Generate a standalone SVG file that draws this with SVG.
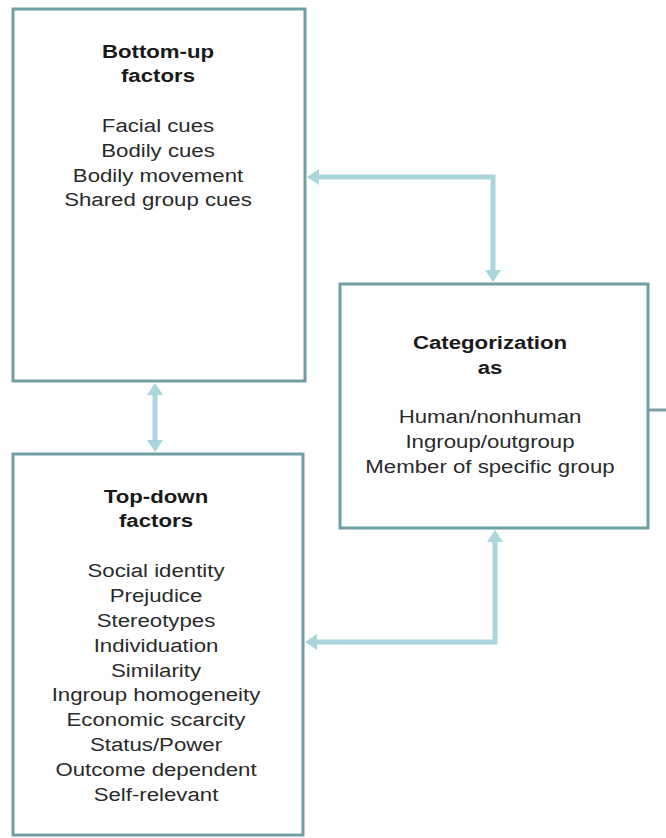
<svg xmlns="http://www.w3.org/2000/svg" width="666" height="838" viewBox="0 0 666 838">
<style>
.box{fill:#ffffff;stroke:#6f9ea3;stroke-width:3}
.con{fill:none;stroke:#a9d5dc;stroke-width:5}
.t{font-family:"Liberation Sans",Arial,sans-serif;font-size:19px;font-weight:bold;fill:#1a1a1a;text-anchor:middle}
.b{font-family:"Liberation Sans",Arial,sans-serif;font-size:19px;fill:#2a2a2a;text-anchor:middle}
</style>
<defs>
<marker id="ah" viewBox="0 0 12 16" refX="4" refY="8" markerWidth="12" markerHeight="16" markerUnits="userSpaceOnUse" orient="auto-start-reverse">
<path d="M0,0 L12,8 L0,16 Z" fill="#a9d5dc"/>
</marker>
</defs>
<rect width="666" height="838" fill="#ffffff"/>
<g id="connectors">
<path class="con" d="M493,274 V177 H315" marker-start="url(#ah)" marker-end="url(#ah)"/>
<path class="con" d="M155,391 V444" marker-start="url(#ah)" marker-end="url(#ah)"/>
<path class="con" d="M495,538 V642 H313" marker-start="url(#ah)" marker-end="url(#ah)"/>
<path d="M648,410 H666" fill="none" stroke="#7a9fa3" stroke-width="3"/>
</g>
<g id="bottom-up">
<rect class="box" x="13" y="9" width="292" height="372"/>
<g transform="translate(158,0) scale(1.17,1)">
<text class="t" x="0" y="58">Bottom-up</text>
<text class="t" x="0" y="82">factors</text>
<text class="b" x="0" y="132">Facial cues</text>
<text class="b" x="0" y="157">Bodily cues</text>
<text class="b" x="0" y="182">Bodily movement</text>
<text class="b" x="0" y="206">Shared group cues</text>
</g>
</g>
<g id="categorization">
<rect class="box" x="340" y="284" width="308" height="244"/>
<g transform="translate(490,0) scale(1.17,1)">
<text class="t" x="0" y="349">Categorization</text>
<text class="t" x="0" y="374">as</text>
<text class="b" x="0" y="423">Human/nonhuman</text>
<text class="b" x="0" y="448">Ingroup/outgroup</text>
<text class="b" x="0" y="473">Member of specific group</text>
</g>
</g>
<g id="top-down">
<rect class="box" x="13" y="454" width="290" height="381"/>
<g transform="translate(156,0) scale(1.17,1)">
<text class="t" x="0" y="503">Top-down</text>
<text class="t" x="0" y="527">factors</text>
<text class="b" x="0" y="577">Social identity</text>
<text class="b" x="0" y="602">Prejudice</text>
<text class="b" x="0" y="627">Stereotypes</text>
<text class="b" x="0" y="652">Individuation</text>
<text class="b" x="0" y="677">Similarity</text>
<text class="b" x="0" y="701">Ingroup homogeneity</text>
<text class="b" x="0" y="726">Economic scarcity</text>
<text class="b" x="0" y="751">Status/Power</text>
<text class="b" x="0" y="776">Outcome dependent</text>
<text class="b" x="0" y="801">Self-relevant</text>
</g>
</g>
</svg>
